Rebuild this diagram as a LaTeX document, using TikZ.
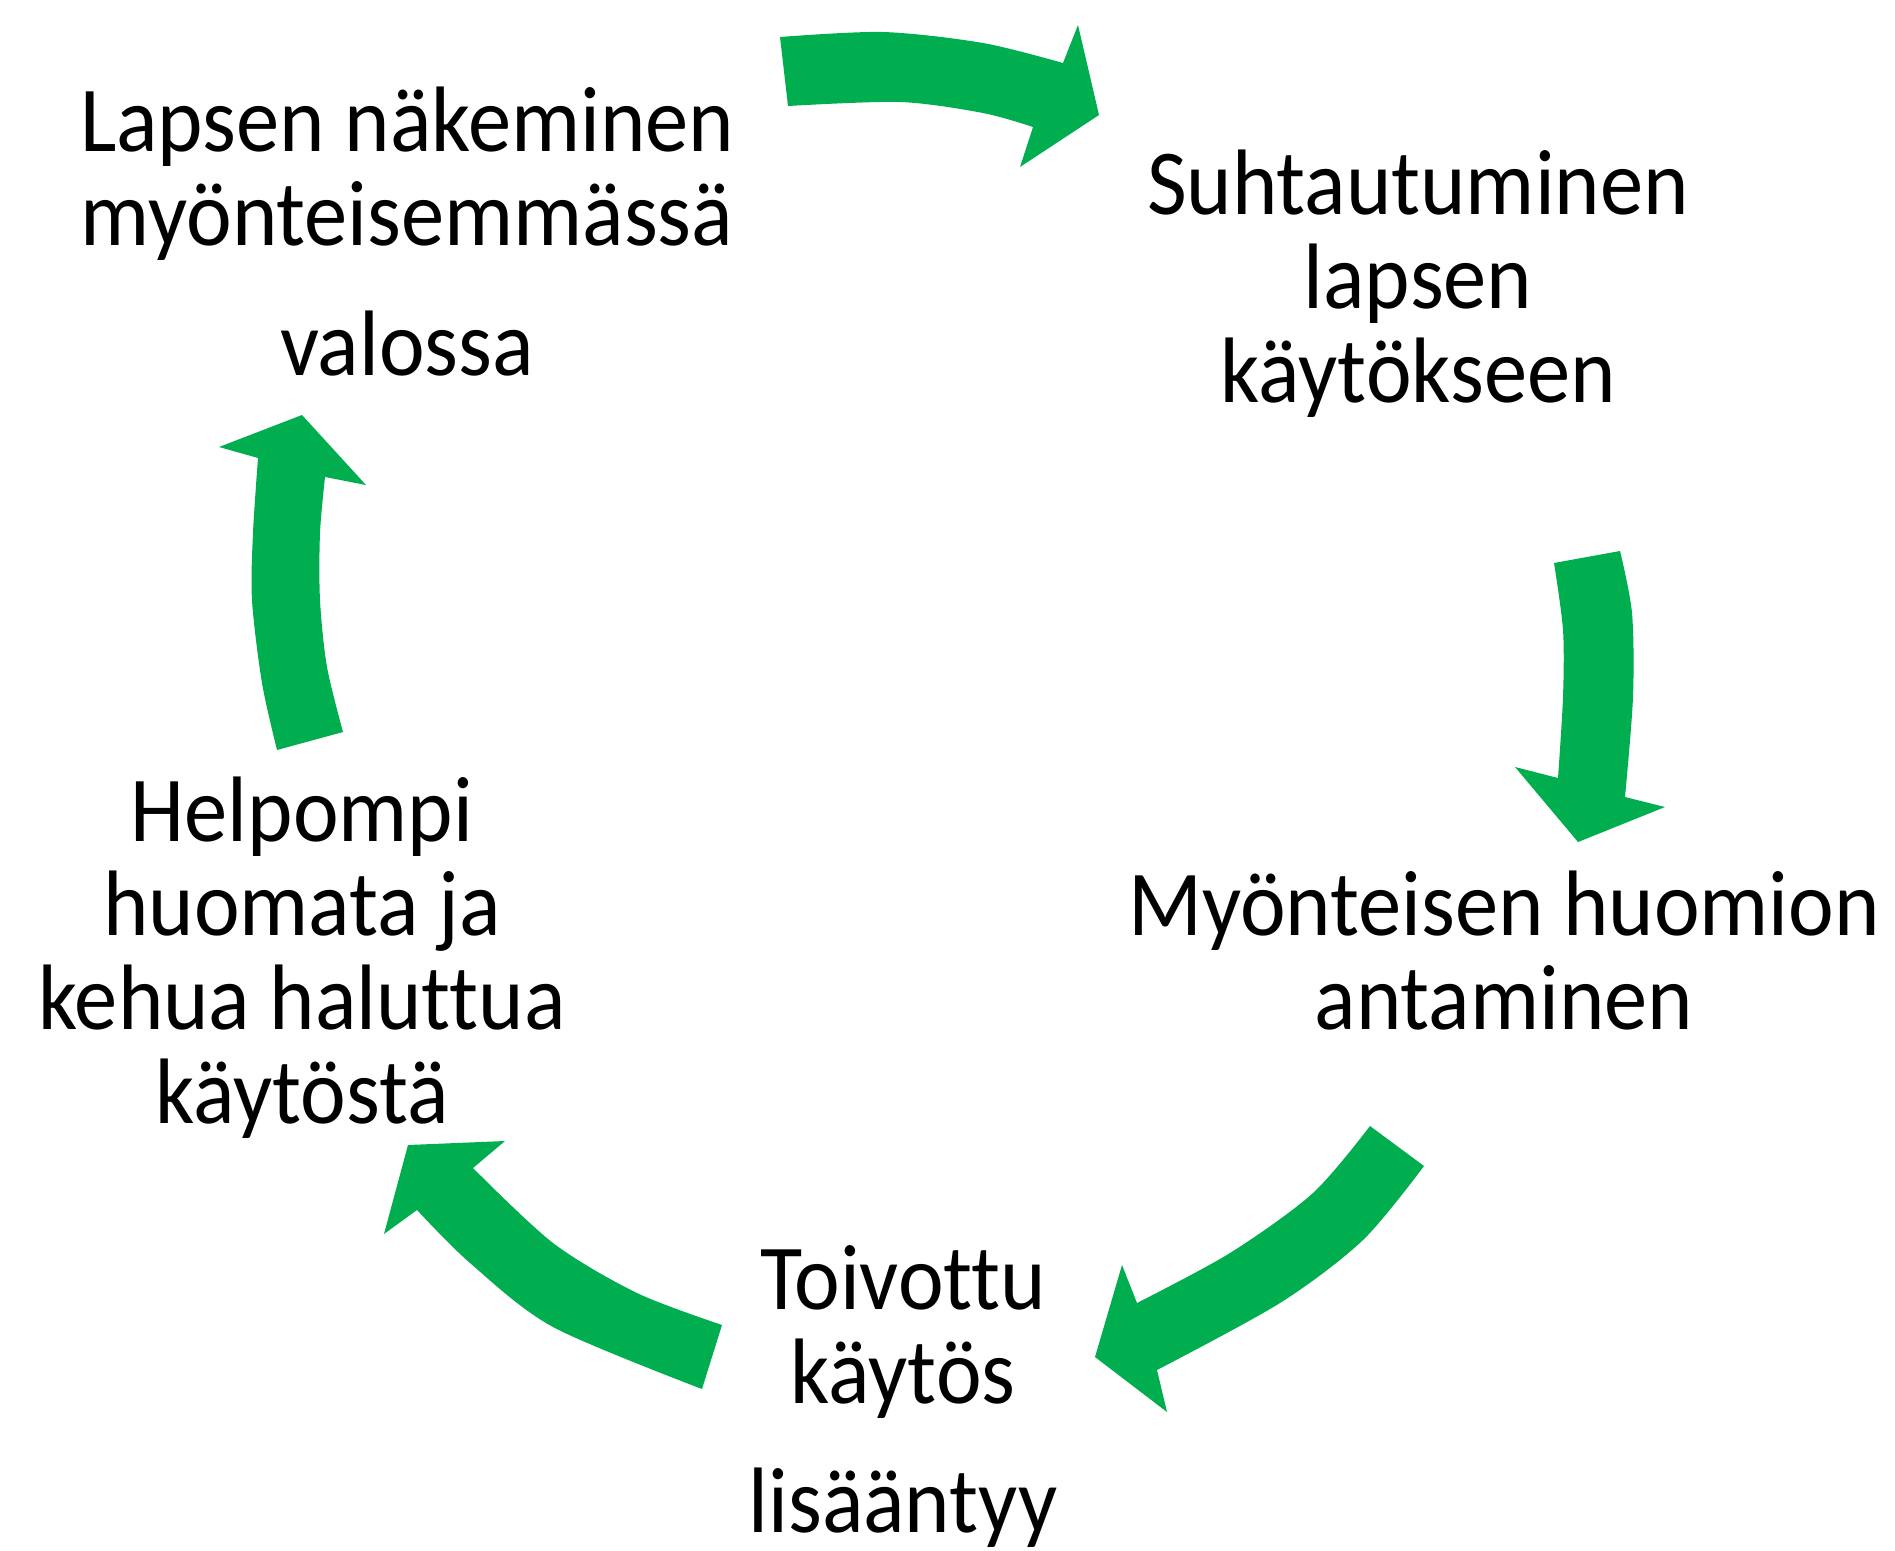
\documentclass[tikz,border=0pt]{standalone}
\usepackage{fontspec}
\setmainfont{Carlito}[FakeStretch=0.93,Ligatures=NoCommon]
\definecolor{arrowgreen}{RGB}{0,173,79}
\begin{document}
\begin{tikzpicture}[x=1pt,y=-1pt,
  lbl/.style={align=center,anchor=base,inner sep=0pt,font=\fontsize{93}{94}\selectfont},
  garrow/.style={fill=arrowgreen,draw=none}]
\useasboundingbox (0,0) rectangle (1895,1550);
% text blocks (anchor = baseline of the last line)
\node[lbl] (nakeminen) at (407,375) {Lapsen näkeminen\\myönteisemmässä\\[36pt]valossa};
\node[lbl] (suhtautuminen) at (1418,402) {Suhtautuminen\\lapsen\\käytökseen};
\node[lbl] (huomio) at (1504,1029) {Myönteisen huomion\\antaminen};
\node[lbl] (toivottu) at (903,1532) {Toivottu\\käytös\\[35pt]lisääntyy};
\node[lbl] (helpompi) at (302,1123) {Helpompi\\huomata ja\\kehua haluttua\\käytöstä};
% arrows
\fill[garrow] (788,106) -- (780,37)
  -- plot[smooth] coordinates {(780,37) (883,32) (983,43) (1063,63)}
  -- (1078,25) -- (1099,115) -- (1020,167) -- (1033,127)
  -- plot[smooth] coordinates {(1033,127) (983,113) (900,102) (788,106)} -- cycle;
\fill[garrow] (1554,563) -- (1620,551)
  -- plot[smooth] coordinates {(1620,551) (1632,613) (1633,697) (1625,797)}
  -- (1665,807) -- (1578,842) -- (1515,767) -- (1558,778)
  -- plot[smooth] coordinates {(1558,778) (1563,697) (1563,630) (1554,563)} -- cycle;
\fill[garrow] (1370,1126) -- (1424,1166)
  -- plot[smooth] coordinates {(1424,1166) (1363,1240) (1280,1303) (1157,1370)}
  -- (1167,1412) -- (1095,1357) -- (1122,1265) -- (1137,1303)
  -- plot[smooth] coordinates {(1137,1303) (1230,1253) (1313,1193) (1370,1126)} -- cycle;
\fill[garrow] (722,1325) -- (702,1389)
  -- plot[smooth] coordinates {(702,1389) (553,1327) (470,1263) (417,1210)}
  -- (384,1234) -- (408,1145) -- (505,1141) -- (473,1168)
  -- plot[smooth] coordinates {(473,1168) (553,1243) (637,1293) (722,1325)} -- cycle;
\fill[garrow] (277,750) -- (343,732)
  -- plot[smooth] coordinates {(343,732) (327,667) (320,600) (320,533) (325,477)}
  -- (366,485) -- (302,415) -- (219,447) -- (258,458)
  -- plot[smooth] coordinates {(258,458) (253,533) (252,600) (262,683) (277,750)} -- cycle;
\end{tikzpicture}
\end{document}
